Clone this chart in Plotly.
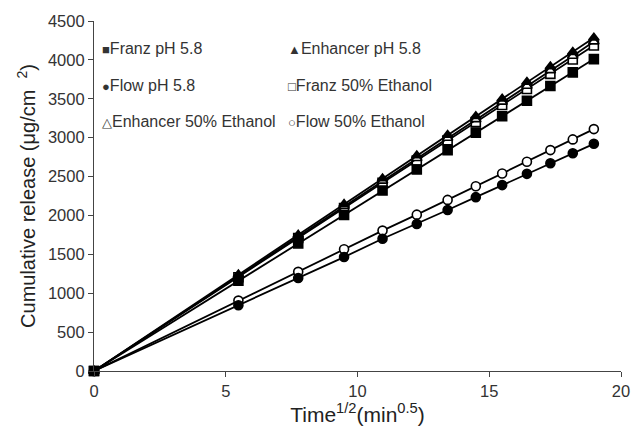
import plotly.graph_objects as go

time_sqrt = [0, 5.48, 7.75, 9.49, 10.95, 12.25, 13.42, 14.49, 15.49, 16.43, 17.32, 18.17, 18.97]

franz_ph58 = [0, 1160, 1640, 2005, 2320, 2590, 2840, 3065, 3275, 3475, 3665, 3840, 4010]
enhancer_ph58 = [0, 1240, 1750, 2145, 2475, 2770, 3035, 3275, 3500, 3715, 3915, 4100, 4285]
flow_ph58 = [0, 846, 1195, 1465, 1700, 1890, 2070, 2235, 2390, 2535, 2672, 2800, 2921]
franz_eth = [0, 1205, 1710, 2095, 2420, 2705, 2965, 3200, 3420, 3625, 3820, 4005, 4185]
enhancer_eth = [0, 1220, 1730, 2120, 2445, 2735, 2995, 3235, 3460, 3665, 3865, 4050, 4235]
flow_eth = [0, 905, 1275, 1565, 1805, 2010, 2200, 2375, 2540, 2690, 2840, 2978, 3110]

series_names = ["Franz pH 5.8", "Enhancer pH 5.8", "Flow pH 5.8",
                "Franz 50% Ethanol", "Enhancer 50% Ethanol", "Flow 50% Ethanol"]
series_values = [franz_ph58, enhancer_ph58, flow_ph58, franz_eth, enhancer_eth, flow_eth]
symbols = ["square", "triangle-up", "circle", "square", "triangle-up", "circle"]
fills = ["black", "black", "black", "white", "white", "white"]
glyphs = ["■", "▲", "●", "□", "△", "○"]

fig = go.Figure()
order = [3, 4, 5, 0, 1, 2]  # open markers first, filled on top
for i in order:
    fig.add_trace(go.Scatter(
        x=time_sqrt, y=series_values[i], mode="lines+markers", name=series_names[i],
        line=dict(color="black", width=1.8),
        marker=dict(symbol=symbols[i], size=9, color=fills[i], line=dict(color="black", width=1.6)),
        cliponaxis=False,
    ))

# legend as text (two columns, three rows), in the reference's reading order
leg_x = [0.011, 0.364]
leg_y = [0.922, 0.817, 0.714]
annotations = []
for k in range(6):
    r, c = divmod(k, 2)
    annotations.append(dict(
        xref="paper", yref="paper", x=leg_x[c], y=leg_y[r], xanchor="left", yanchor="middle",
        showarrow=False,
        text='<span style="font-size:13px">' + glyphs[k] + '</span>' + series_names[k],
        font=dict(family="Liberation Sans, Arial, sans-serif", size=16, color="#333"),
    ))

fig.update_layout(
    width=642, height=431,
    margin=dict(l=94, r=13, t=20, b=60),
    plot_bgcolor="white", paper_bgcolor="white",
    font=dict(family="Liberation Sans, Arial, sans-serif", size=16, color="#333"),
    showlegend=False,
    annotations=annotations,
    xaxis=dict(
        range=[0, 20], tickvals=[0, 5, 10, 15, 20], showgrid=False, zeroline=False,
        showline=True, linecolor="#444", linewidth=1.2, ticks="outside", ticklen=5,
        tickcolor="#444", tickfont=dict(size=16.5, color="#333"), ticklabeloverflow="allow",
        title=dict(text="Time<sup>1/2</sup>(min<sup>0.5</sup>)", font=dict(size=21, color="#222"), standoff=3),
    ),
    yaxis=dict(
        range=[0, 4500], tickvals=list(range(0, 4501, 500)), showgrid=False, zeroline=False,
        showline=True, linecolor="#444", linewidth=1.2, ticks="outside", ticklen=5,
        tickcolor="#444", tickfont=dict(size=16.5, color="#333"),
        title=dict(text="Cumulative release (μg/cm  <sup>2</sup>)", font=dict(size=20, color="#222"), standoff=6),
    ),
)

fig.write_html(
    "out.html",
    config={"displayModeBar": False},
    post_script="document.documentElement.style.margin='0';document.body.style.margin='0';document.body.style.overflow='hidden';",
)
